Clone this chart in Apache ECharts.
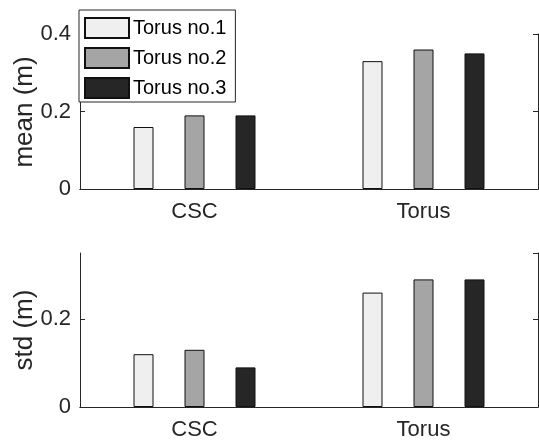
<!DOCTYPE html>
<html>
<head>
<meta charset="utf-8">
<script src="https://cdn.jsdelivr.net/npm/echarts@6/dist/echarts.min.js"></script>
<style>
  html, body { margin: 0; padding: 0; background: #fff; }
  #main { width: 539px; height: 441px; }
</style>
</head>
<body>
<div id="main"></div>
<script>
// data
const categories = ['CSC', 'Torus'];
const names = ['Torus no.1', 'Torus no.2', 'Torus no.3'];
const meanNo1 = [0.16, 0.33];
const meanNo2 = [0.19, 0.36];
const meanNo3 = [0.19, 0.35];
const stdNo1 = [0.12, 0.26];
const stdNo2 = [0.13, 0.29];
const stdNo3 = [0.09, 0.29];
const colors = ['#efefef', '#a5a5a5', '#262626'];

const ink = '#262626';
const font = 'Liberation Sans';

let myChart = echarts.init(document.getElementById('main'));

function xAxes(gi) {
  const base = {
    type: 'category', gridIndex: gi, data: categories, z: 5,
    axisLine: { lineStyle: { color: ink, width: 1 } },
    axisTick: { inside: true, alignWithLabel: true, length: 5, lineStyle: { color: ink } },
    splitLine: { show: false }
  };
  return [
    Object.assign({}, base, {
      position: 'bottom',
      axisLabel: { color: ink, fontFamily: font, fontSize: 22, margin: 12 }
    }),
    Object.assign({}, base, { position: 'top', axisLabel: { show: false } })
  ];
}

function yAxes(gi, max) {
  const base = {
    type: 'value', gridIndex: gi, min: 0, max: max, interval: 0.2, z: 5,
    axisLine: { show: true, lineStyle: { color: ink, width: 1 } },
    axisTick: { show: true, inside: true, length: 5, lineStyle: { color: ink } },
    splitLine: { show: false }
  };
  return [
    Object.assign({}, base, {
      position: 'left',
      axisLabel: { color: ink, fontFamily: font, fontSize: 22, margin: 9, showMaxLabel: max === 0.4 }
    }),
    Object.assign({}, base, { position: 'right', axisLabel: { show: false } })
  ];
}

function bars(gi, values) {
  return values.map((v, i) => ({
    name: names[i],
    type: 'bar',
    xAxisIndex: gi * 2,
    yAxisIndex: gi * 2,
    data: v,
    barWidth: 20,
    barGap: '155%',
    itemStyle: { color: colors[i], borderColor: '#111', borderWidth: 1 },
    emphasis: { disabled: true }
  }));
}

// y-axis titles, rotated, centred on each plot box
function yTitle(text, cy) {
  return {
    type: 'text', x: 25, y: cy, rotation: Math.PI / 2,
    style: { text: text, fill: ink, font: '26px "Liberation Sans"', align: 'center', verticalAlign: 'middle' }
  };
}

let option = {
  animation: false,
  backgroundColor: '#fff',
  textStyle: { fontFamily: font },
  grid: [
    { left: 80, top: 34, right: 1, height: 155 },
    { left: 80, top: 253, right: 1, height: 155 }
  ],
  legend: {
    data: names,
    orient: 'vertical',
    left: 79, top: 10,
    itemWidth: 44, itemHeight: 20, itemGap: 8,
    padding: [7, 9, 3, 5],
    backgroundColor: '#fff',
    borderColor: ink, borderWidth: 1, borderRadius: 0,
    icon: 'rect',
    selectedMode: false,
    textStyle: { color: '#000', fontFamily: font, fontSize: 20, lineHeight: 20, padding: [0, 0, 0, -1] },
    z: 10
  },
  graphic: [yTitle('mean (m)', 112), yTitle('std (m)', 330)],
  xAxis: [...xAxes(0), ...xAxes(1)],
  yAxis: [...yAxes(0, 0.4), ...yAxes(1, 0.35)],
  series: [
    ...bars(0, [meanNo1, meanNo2, meanNo3]),
    ...bars(1, [stdNo1, stdNo2, stdNo3])
  ]
};
myChart.setOption(option);
</script>
</body>
</html>
